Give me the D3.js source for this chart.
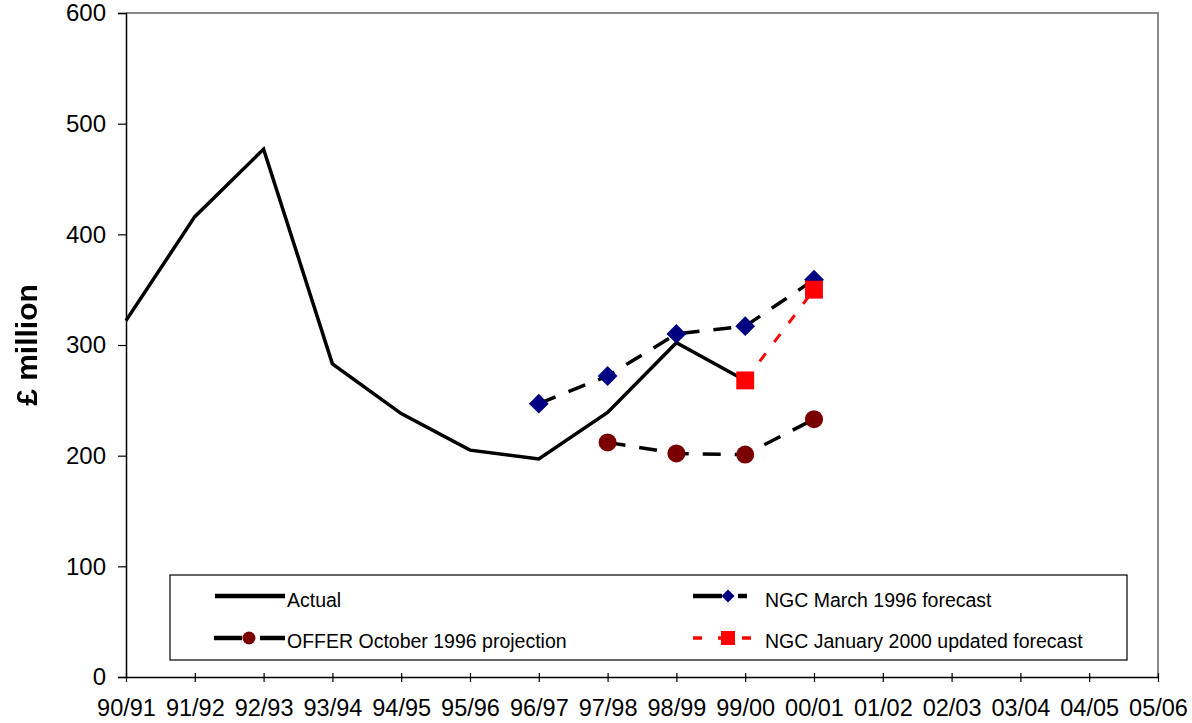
<!DOCTYPE html>
<html>
<head>
<meta charset="utf-8">
<script src="https://cdn.jsdelivr.net/npm/d3@7"></script>
<style>
  html, body { margin: 0; padding: 0; background: #fff; }
  svg { display: block; font-family: Arial, "Liberation Sans", sans-serif; }
</style>
</head>
<body>
<svg id="chart" width="1192" height="723"></svg>
<script>
// Financial years on the category axis
const years = ["90/91","91/92","92/93","93/94","94/95","95/96","96/97","97/98",
               "98/99","99/00","00/01","01/02","02/03","03/04","04/05","05/06"];
const yTicks = [0, 100, 200, 300, 400, 500, 600];

// £ million, one entry per year (null = no value)
const actual      = [322, 416, 477, 283, 238, 205, 197, 239, 302, 268, null, null, null, null, null, null];
const ngcMar1996  = [null, null, null, null, null, null, 247, 272, 310, 317, 359, null, null, null, null, null];
const offerOct96  = [null, null, null, null, null, null, null, 212, 202, 201, 233, null, null, null, null, null];
const ngcJan2000  = [null, null, null, null, null, null, null, null, null, 268, 350, null, null, null, null, null];

const svg = d3.select("#chart");
const m = { left: 126, right: 1158, top: 13, bottom: 677 };

const x = d3.scalePoint().domain(years).range([m.left, m.right]);
const y = d3.scaleLinear().domain([0, 600]).range([m.bottom, m.top]);

const defs = svg.append("defs");
defs.append("filter").attr("id", "soft")
  .append("feGaussianBlur").attr("stdDeviation", 0.6);

// plot-area frame: grey on top and right
svg.append("path")
  .attr("d", `M${m.left},${m.top}H${m.right}V${m.bottom}`)
  .attr("fill", "none").attr("stroke", "#888").attr("stroke-width", 2);

// y axis
const yAxis = svg.append("g").attr("transform", `translate(${m.left},0)`)
  .call(d3.axisLeft(y).tickValues(yTicks).tickSize(8).tickPadding(12).tickFormat(d3.format("d")));
yAxis.select(".domain").attr("stroke", "#000").attr("stroke-width", 1.5);
yAxis.selectAll(".tick line").attr("stroke", "#000").attr("stroke-width", 1.2);
yAxis.selectAll(".tick text").attr("font-size", 24).attr("fill", "#000")
  .attr("font-family", "Arial, 'Liberation Sans', sans-serif");

// x axis: ticks cross the axis line
const xAxis = svg.append("g").attr("transform", `translate(0,${m.bottom})`)
  .call(d3.axisBottom(x).tickSize(5).tickSizeOuter(0).tickPadding(17));
xAxis.select(".domain").attr("stroke", "#000").attr("stroke-width", 1.5);
xAxis.selectAll(".tick line").attr("y1", -4).attr("y2", 5).attr("stroke", "#000").attr("stroke-width", 1.2);
xAxis.selectAll(".tick text").attr("font-size", 23.5).attr("fill", "#000")
  .attr("font-family", "Arial, 'Liberation Sans', sans-serif");

// y axis title
svg.append("text")
  .attr("transform", `translate(37,345) rotate(-90)`)
  .attr("text-anchor", "middle")
  .attr("font-size", 30).attr("font-weight", "bold").attr("fill", "#000")
  .attr("filter", "url(#soft)")
  .text("£ million");

const line = d3.line()
  .defined(d => d.v != null)
  .x(d => x(d.k)).y(d => y(d.v));
const pts = arr => years.map((k, i) => ({ k, v: arr[i] }));

const series = [
  { name: "Actual", data: actual, stroke: "#000", width: 3.5, dash: null, marker: null },
  { name: "NGC March 1996 forecast", data: ngcMar1996, stroke: "#000", width: 3.5, dash: "18,14", marker: "diamond", fill: "#000080" },
  { name: "OFFER October 1996 projection", data: offerOct96, stroke: "#000", width: 3.5, dash: "18,14", marker: "circle", fill: "#7a0000" },
  { name: "NGC January 2000 updated forecast", data: ngcJan2000, stroke: "#ff0000", width: 3, dash: "10,14", marker: "square", fill: "#ff0000" }
];

const symbolFor = (t, big) => {
  const type = t === "diamond" ? d3.symbolDiamond2 : t === "circle" ? d3.symbolCircle : d3.symbolSquare;
  const size = big
    ? (t === "diamond" ? 250 : t === "circle" ? 255 : 320)
    : (t === "diamond" ? 108 : t === "circle" ? 133 : 196);
  return d3.symbol().type(type).size(size)();
};

series.forEach(s => {
  const g = svg.append("g");
  g.append("path").datum(pts(s.data))
    .attr("d", line).attr("fill", "none")
    .attr("stroke", s.stroke).attr("stroke-width", s.width)
    .attr("stroke-linejoin", "miter")
    .attr("stroke-dasharray", s.dash);
  if (s.marker) {
    g.selectAll("path.mk").data(pts(s.data).filter(d => d.v != null)).join("path")
      .attr("class", "mk")
      .attr("transform", d => `translate(${x(d.k)},${y(d.v)})`)
      .attr("d", symbolFor(s.marker, true))
      .attr("fill", s.fill);
  }
});

// legend
const lg = svg.append("g");
lg.append("rect").attr("x", 170).attr("y", 575).attr("width", 957).attr("height", 85)
  .attr("fill", "#fff").attr("stroke", "#000").attr("stroke-width", 1.2);

// sample segments: [x0, x1] pieces of each legend key
const legendItems = [
  { s: series[0], segs: [[215, 285]], mx: null, tx: 287, ly: 596, ty: 600 },
  { s: series[1], segs: [[693, 722], [738, 747]], mx: 728, tx: 765, ly: 596, ty: 600 },
  { s: series[2], segs: [[214, 242], [260, 285]], mx: 249, tx: 287, ly: 638, ty: 641 },
  { s: series[3], segs: [[693, 702], [718, 722], [742, 751]], mx: 728, tx: 765, ly: 638, ty: 641 }
];
legendItems.forEach(it => {
  const s = it.s;
  it.segs.forEach(([a, b]) => {
    lg.append("line").attr("x1", a).attr("x2", b).attr("y1", it.ly).attr("y2", it.ly)
      .attr("stroke", s.stroke).attr("stroke-width", s.marker === "square" ? 3.5 : 4.5);
  });
  if (s.marker) {
    lg.append("path").attr("transform", `translate(${it.mx},${it.ly})`)
      .attr("d", symbolFor(s.marker, false))
      .attr("fill", s.fill);
  }
  lg.append("text").attr("x", it.tx).attr("y", it.ty).attr("dy", "0.35em")
    .attr("font-size", 19.5).attr("fill", "#000").text(s.name);
});
</script>
</body>
</html>
